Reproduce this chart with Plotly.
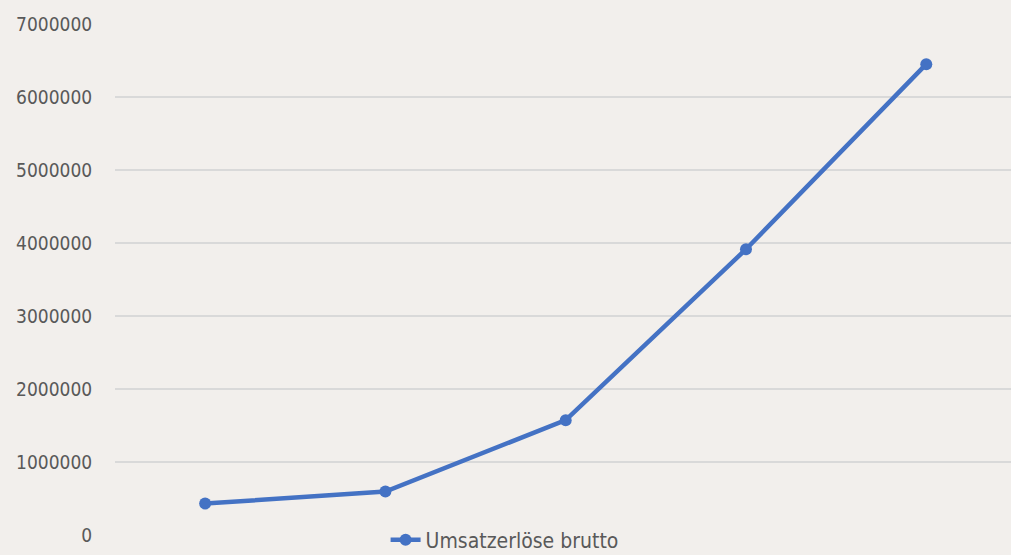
import plotly.graph_objects as go

categories = ["1", "2", "3", "4", "5"]
umsatz = [430000, 596000, 1573000, 3915000, 6450000]
tick_vals = [0, 1000000, 2000000, 3000000, 4000000, 5000000, 6000000, 7000000]
tick_text = [str(v) for v in tick_vals]

FONT = "DejaVu Sans Condensed, Liberation Sans Narrow, sans-serif"
BG = "#F2EFEC"
TXT = "#595959"
BLUE = "#4472C4"
GRID = "#D9D9D9"

fig = go.Figure()
fig.add_trace(go.Scatter(
    x=categories, y=umsatz, mode="lines+markers",
    name="Umsatzerlöse brutto",
    line=dict(color=BLUE, width=4.5),
    marker=dict(color=BLUE, size=12),
))

fig.update_layout(
    width=1011, height=555,
    paper_bgcolor=BG, plot_bgcolor=BG,
    margin=dict(l=115, r=0, t=24, b=20, autoexpand=False),
    font=dict(family=FONT, color=TXT, size=19),
    showlegend=True,
    legend=dict(
        orientation="h", x=0.302, xanchor="left",
        yref="container", y=0.027, yanchor="middle",
        bgcolor="rgba(0,0,0,0)", font=dict(size=21, color=TXT, family=FONT),
    ),
    xaxis=dict(
        type="category", range=[-0.5, 4.47], showticklabels=False,
        showgrid=False, zeroline=False, showline=False, ticks="",
    ),
    yaxis=dict(
        range=[0, 7000000], tickvals=tick_vals, ticktext=tick_text,
        showgrid=True, gridcolor=GRID, gridwidth=1.5,
        zeroline=False, showline=False,
        ticks="outside", ticklen=18, tickcolor="rgba(0,0,0,0)",
        tickfont=dict(size=19, color=TXT, family=FONT),
    ),
)

fig.write_html(
    "out.html",
    config={"displayModeBar": False},
    post_script="document.body.style.margin='0';document.body.style.background='%s';" % BG,
)
